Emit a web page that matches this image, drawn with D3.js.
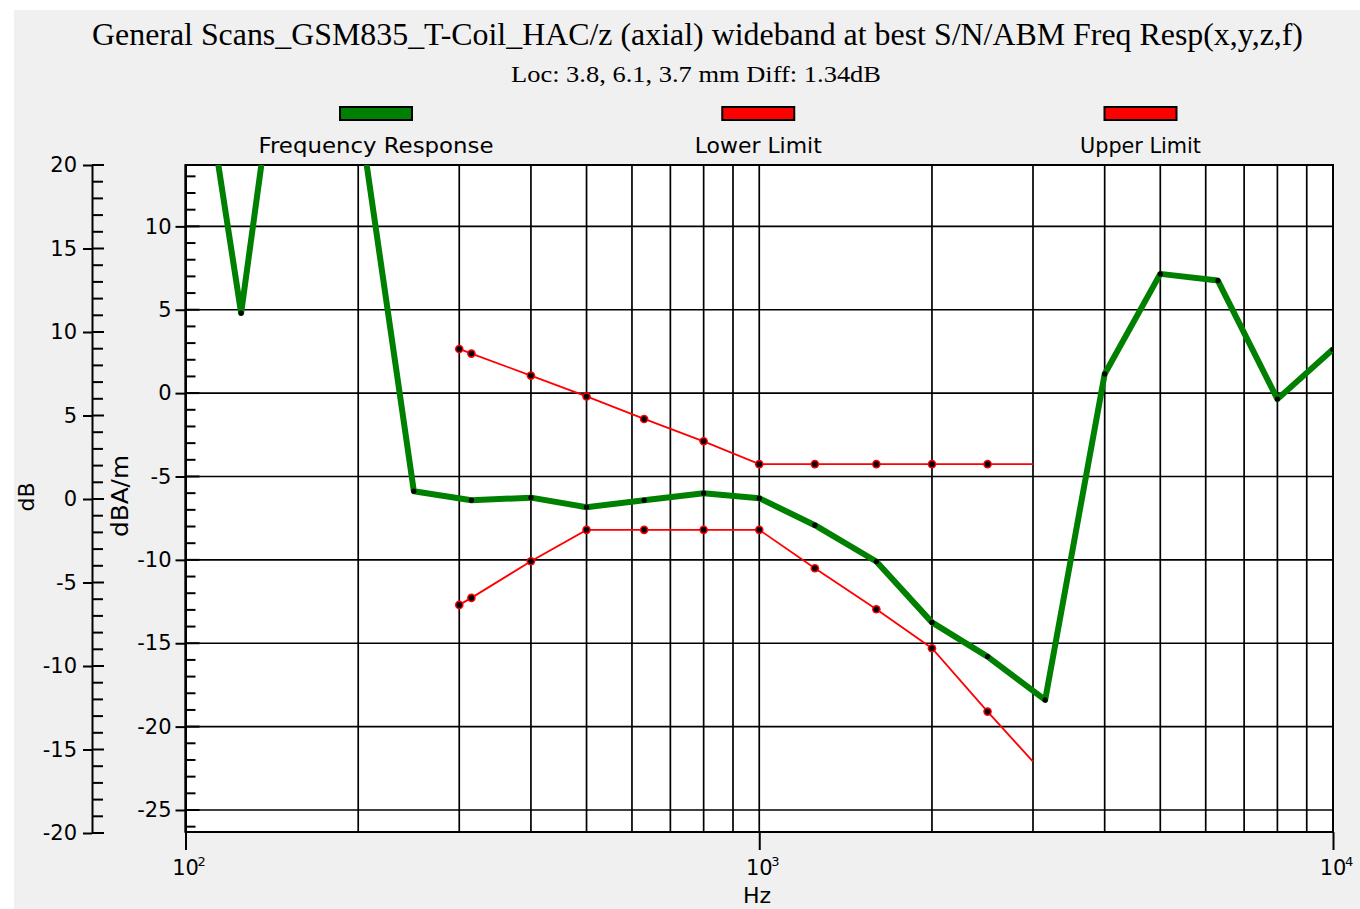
<!DOCTYPE html>
<html><head><meta charset="utf-8">
<script src="https://cdn.jsdelivr.net/npm/d3@7"></script>
<style>body{margin:0;background:#fff;} svg{display:block}</style>
</head><body><svg id="c" width="1360" height="909"></svg>
<script>
// ---- data ----
const respFreqs  = [100,125,160,200,250,315,400,500,630,800,1000,1250,1600,2000,2500,3150,4000,5000,6300,8000,10000];
const respValues = [26.5,4.8,31.8,17.2,-5.88,-6.42,-6.27,-6.84,-6.42,-6.0,-6.3,-7.92,-10.1,-13.75,-15.8,-18.4,1.15,7.15,6.75,-0.36,2.63];
const limitFreqs = [300,315,400,500,630,800,1000,1250,1600,2000,2500,3000];
const lowerLimit = [-12.7,-12.28,-10.08,-8.2,-8.2,-8.2,-8.2,-10.5,-12.96,-15.3,-19.1,-22.1];
const upperLimit = [2.65,2.37,1.05,-0.2,-1.55,-2.89,-4.26,-4.26,-4.26,-4.26,-4.26,-4.26];
const dBTicks   = [-20,-15,-10,-5,0,5,10,15,20];
const dBAmTicks = [-25,-20,-15,-10,-5,0,5,10];
const hzTicks   = [100,1000,10000];
const seriesNames  = ["Frequency Response","Lower Limit","Upper Limit"];
const seriesColors = ["#008000","#ff0000","#ff0000"];
const titleText    = "General Scans_GSM835_T-Coil_HAC/z (axial) wideband at best S/N/ABM Freq Resp(x,y,z,f)";
const subtitleText = "Loc: 3.8, 6.1, 3.7 mm Diff: 1.34dB";

// ---- layout ----
const svg = d3.select("#c");
const L = 185.5, R = 1333, T = 165, B = 832;
const SANS = "DejaVu Sans", SERIF = "Liberation Serif";
const fmt = d => String(d);
svg.append("rect").attr("x",14).attr("y",10).attr("width",1346).attr("height",899).attr("fill","#f0f0f0");

const x = d3.scaleLog().domain([100,10000]).range([L,R]);
const y = d3.scaleLinear().domain([-26.32,13.68]).range([B,T]);
const yDb = d3.scaleLinear().domain([-20,20]).range([B+1,T]);

// title
svg.append("text").attr("x",697.5).attr("y",45).attr("text-anchor","middle")
  .attr("font-family",SERIF).attr("font-size",31).attr("fill","#000")
  .attr("textLength",1211).attr("lengthAdjust","spacingAndGlyphs").text(titleText);
svg.append("text").attr("x",696).attr("y",82).attr("text-anchor","middle")
  .attr("font-family",SERIF).attr("font-size",23).attr("fill","#000")
  .attr("textLength",370).attr("lengthAdjust","spacingAndGlyphs").text(subtitleText);

// legend
const legW = [235,127,121];
seriesNames.forEach((n,i)=>{
  const cx = 376 + i*382.25;
  svg.append("rect").attr("x",cx-36).attr("y",107).attr("width",72).attr("height",13)
    .attr("fill",seriesColors[i]).attr("stroke","#000").attr("stroke-width",2);
  svg.append("text").attr("x",cx).attr("y",153).attr("text-anchor","middle")
    .attr("font-family",SANS).attr("font-size",22).attr("fill","#000")
    .attr("textLength",legW[i]).attr("lengthAdjust","spacingAndGlyphs").text(n);
});

// plot background
svg.append("rect").attr("x",L).attr("y",T).attr("width",R-L).attr("height",B-T).attr("fill","#fff");

// grid
const grid = svg.append("g").attr("stroke","#000").attr("stroke-width",1.7);
grid.selectAll("line.v").data(x.ticks()).join("line").attr("class","v")
  .attr("x1",d=>x(d)).attr("x2",d=>x(d)).attr("y1",T).attr("y2",B);
grid.selectAll("line.h").data(dBAmTicks).join("line").attr("class","h")
  .attr("x1",L).attr("x2",R).attr("y1",d=>y(d)).attr("y2",d=>y(d));

// frame
svg.append("rect").attr("x",L).attr("y",T).attr("width",R-L).attr("height",B-T)
  .attr("fill","none").attr("stroke","#000").attr("stroke-width",2);

// outer dB axis
const gDb = svg.append("g").attr("transform","translate(92,0)")
  .call(d3.axisLeft(yDb).tickValues(dBTicks).tickFormat(fmt).tickSize(9).tickSizeOuter(0).tickPadding(6));
gDb.selectAll("path,line").attr("stroke","#000").attr("stroke-width",2);
gDb.selectAll("text").attr("font-family",SANS).attr("font-size",21).attr("fill","#000");
gDb.selectAll("line.mn").data(d3.range(-20,21)).join("line").attr("class","mn")
  .attr("x1",0).attr("x2",d=>d%5===0?12:11).attr("y1",d=>yDb(d)).attr("y2",d=>yDb(d))
  .attr("stroke","#000").attr("stroke-width",2);

// inner dBA/m axis
const gA = svg.append("g").attr("transform",`translate(${L},0)`)
  .call(d3.axisLeft(y).tickValues(dBAmTicks).tickFormat(fmt).tickSize(10).tickSizeOuter(0).tickPadding(4));
gA.selectAll("path,line").attr("stroke","#000").attr("stroke-width",2);
gA.selectAll("text").attr("font-family",SANS).attr("font-size",21).attr("fill","#000");
gA.selectAll("line.mn").data(d3.range(-26,14)).join("line").attr("class","mn")
  .attr("x1",0).attr("x2",d=>d%5===0?14:10).attr("y1",d=>y(d)).attr("y2",d=>y(d))
  .attr("stroke","#000").attr("stroke-width",2);

// x axis
const gX = svg.append("g").attr("transform",`translate(0,${B})`)
  .call(d3.axisBottom(x).tickValues(hzTicks).tickSize(18).tickSizeOuter(0).tickFormat(()=>""));
gX.select(".domain").remove();
gX.selectAll("line").attr("stroke","#000").attr("stroke-width",2);
hzTicks.forEach(v=>{
  svg.append("text").attr("x",x(v)).attr("y",B+43).attr("text-anchor","middle")
    .attr("font-family",SANS).attr("font-size",21).attr("fill","#000").text("10");
  svg.append("text").attr("x",x(v)+12).attr("y",B+34).attr("text-anchor","start")
    .attr("font-family",SANS).attr("font-size",13).attr("fill","#000").text(Math.round(Math.log10(v)));
});

// axis titles
svg.append("text").attr("transform","translate(26,497) rotate(-90)").attr("text-anchor","middle")
  .attr("dy","0.35em").attr("font-family",SANS).attr("font-size",22).attr("fill","#000").text("dB");
svg.append("text").attr("transform","translate(120,496) rotate(-90)").attr("text-anchor","middle")
  .attr("dy","0.35em").attr("font-family",SANS).attr("font-size",23).attr("fill","#000")
  .attr("textLength",82).attr("lengthAdjust","spacingAndGlyphs").text("dBA/m");
svg.append("text").attr("x",757).attr("y",903).attr("text-anchor","middle")
  .attr("font-family",SANS).attr("font-size",22).attr("fill","#000").text("Hz");

// data
svg.append("clipPath").attr("id","clip").append("rect")
  .attr("x",L).attr("y",T).attr("width",R-L).attr("height",B-T);
const plot = svg.append("g").attr("clip-path","url(#clip)");
const line = d3.line().x(d=>x(d[0])).y(d=>y(d[1]));

const lowerPts = limitFreqs.map((f,i)=>[f,lowerLimit[i]]);
const upperPts = limitFreqs.map((f,i)=>[f,upperLimit[i]]);
const respPts  = respFreqs.map((f,i)=>[f,respValues[i]]);

[lowerPts, upperPts].forEach((pts,k)=>{
  plot.append("path").datum(pts).attr("d",line).attr("fill","none")
    .attr("stroke",seriesColors[k+1]).attr("stroke-width",1.8);
});
plot.append("path").datum(respPts).attr("d",line).attr("fill","none")
  .attr("stroke",seriesColors[0]).attr("stroke-width",6).attr("stroke-linejoin","round");
plot.selectAll("circle.r").data(respPts).join("circle").attr("class","r")
  .attr("cx",d=>x(d[0])).attr("cy",d=>y(d[1])).attr("r",2.6).attr("fill","#000");
[lowerPts, upperPts].forEach((pts,k)=>{
  const mk = pts.slice(0,-1);
  plot.selectAll(null).data(mk).join("circle")
    .attr("cx",d=>x(d[0])).attr("cy",d=>y(d[1])).attr("r",4.3).attr("fill",seriesColors[k+1]);
  plot.selectAll(null).data(mk).join("circle")
    .attr("cx",d=>x(d[0])).attr("cy",d=>y(d[1])).attr("r",2.8).attr("fill","#000");
});
</script></body></html>
